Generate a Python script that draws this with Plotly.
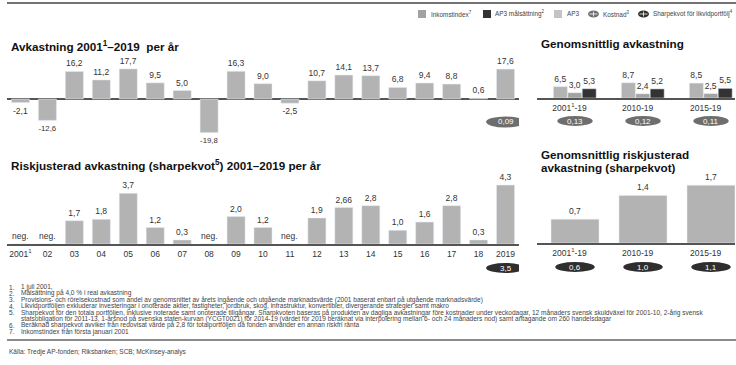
import plotly.graph_objects as go

W, H = 736, 365
FONT = "Liberation Sans, Arial, sans-serif"

# ---------------- data ----------------
years = ["2001", "02", "03", "04", "05", "06", "07", "08", "09", "10",
         "11", "12", "13", "14", "15", "16", "17", "18", "2019"]
year_labels = ["2001<sup>1</sup>", "02", "03", "04", "05", "06", "07", "08", "09", "10",
               "11", "12", "13", "14", "15", "16", "17", "18", "2019"]
returns = [-2.1, -12.6, 16.2, 11.2, 17.7, 9.5, 5.0, -19.8, 16.3, 9.0,
           -2.5, 10.7, 14.1, 13.7, 6.8, 9.4, 8.8, 0.6, 17.6]
sharpe = [None, None, 1.7, 1.8, 3.7, 1.2, 0.3, None, 2.0, 1.2,
          None, 1.9, 2.66, 2.8, 1.0, 1.6, 2.8, 0.3, 4.3]
cost_2019 = 0.09
liquid_sharpe_2019 = 3.5

periods = ["2001<sup>1</sup>-19", "2010-19", "2015-19"]
avg_ap3 = [6.5, 8.7, 8.5]
avg_income = [3.0, 2.4, 2.5]
avg_target = [5.3, 5.2, 5.5]
avg_cost = [0.13, 0.12, 0.11]
avg_sharpe = [0.7, 1.4, 1.7]
avg_liquid_sharpe = [0.6, 1.0, 1.1]

footnotes = [
    "1 juli 2001,",
    "Målsättning på 4,0 % i real avkastning",
    "Provisions- och rörelsekostnad som andel av genomsnittet av årets ingående och utgående marknadsvärde (2001 baserat enbart på utgående marknadsvärde)",
    "Likvidportföljen exkluderar investeringar i onoterade aktier, fastigheter, jordbruk, skog, infrastruktur, konvertibler, divergerande strategier samt makro",
    "Sharpekvot för den totala portföljen, inklusive noterade samt onoterade tillgångar. Sharpkvoten baseras på produkten av dagliga avkastningar före kostnader under veckodagar, 12 månaders svensk skuldväxel för 2001-10, 2-årig svensk",
    "statsobligation för 2011-13, 1-årsnod på svenska staten-kurvan (YCGT0021) för 2014-19 (värdet för 2019 beräknat via interpolering mellan 6- och 24 månaders nod) samt antagande om 260 handelsdagar",
    "Beräknad sharpekvot avviker från redovisat värde på 2,8 för totalportföljen då fonden använder en annan riskfri ränta",
    "Inkomstindex från första januari 2001",
]
footnote_nums = ["1.", "2.", "3.", "4.", "5.", "", "6.", "7."]
source = "Källa: Tredje AP-fonden; Riksbanken; SCB; McKinsey-analys"

# ---------------- styles ----------------
C_AP3 = "#b3b3b3"
C_INC = "#a2a2a2"
C_TGT = "#333333"
C_OVAL_COST = "#6e6e6e"
C_OVAL_SHARPE = "#2e2e2e"
C_TEXT = "#333333"
C_AXIS = "#555555"


def px(x):
    return x / W


def py(y):
    return 1 - y / H


def fmt(v):
    return str(v).replace(".", ",")


idx = list(range(len(years)))
pidx = list(range(len(periods)))

fig = go.Figure()

# Panel 1: yearly returns
fig.add_trace(go.Bar(
    x=idx, y=returns, xaxis="x", yaxis="y", marker_color=C_AP3,
    text=[fmt(v) for v in returns], textposition="outside",
    textfont=dict(size=8.5, color=C_TEXT, family=FONT), cliponaxis=False,
    width=0.67,
))

# Panel 2: average returns (grouped)
grp_w = 0.212
for k, (vals, col) in enumerate([(avg_ap3, C_AP3), (avg_income, C_INC), (avg_target, C_TGT)]):
    fig.add_trace(go.Bar(
        x=pidx, y=vals, xaxis="x2", yaxis="y2", marker_color=col,
        width=grp_w * 0.97, offset=-1.5 * grp_w + k * grp_w,
        text=[fmt(v) for v in vals], textposition="outside",
        textfont=dict(size=8.5, color=C_TEXT, family=FONT), cliponaxis=False,
    ))

# Panel 3: yearly sharpe
fig.add_trace(go.Bar(
    x=idx, y=[v if v is not None else 0 for v in sharpe], xaxis="x3", yaxis="y3",
    marker_color=C_AP3, width=0.67,
    text=[fmt(v) if v is not None else "" for v in sharpe], textposition="outside",
    textfont=dict(size=8.5, color=C_TEXT, family=FONT), cliponaxis=False,
))

# Panel 4: average sharpe
fig.add_trace(go.Bar(
    x=pidx, y=avg_sharpe, xaxis="x4", yaxis="y4",
    marker_color=C_AP3, width=0.706,
    text=[fmt(v) for v in avg_sharpe], textposition="outside",
    textfont=dict(size=8.5, color=C_TEXT, family=FONT), cliponaxis=False,
))

# ---------------- axes ----------------
left_dom = [px(7), px(519)]
left_rng = [-0.5, len(years) - 0.5]
right_dom = [px(537), px(735)]
right_rng = [(537 - 575) / 68, (735 - 575) / 68]
tick_off = -0.08

layout = dict(
    width=W, height=H, margin=dict(l=0, r=0, t=0, b=0),
    paper_bgcolor="white", plot_bgcolor="rgba(0,0,0,0)",
    showlegend=False, font=dict(family=FONT, color=C_TEXT),
    barmode="overlay",
    xaxis=dict(domain=left_dom, range=left_rng, showticklabels=False, showgrid=False,
               showline=False, zeroline=False, anchor="y"),
    yaxis=dict(domain=[py(142), py(58)], range=[-(142 - 99) / 1.7, (99 - 58) / 1.7],
               showticklabels=False, showgrid=False, zeroline=True,
               zerolinecolor=C_AXIS, zerolinewidth=1.5, anchor="x"),
    xaxis2=dict(domain=right_dom, range=right_rng, showgrid=False, zeroline=False,
                showline=True, linecolor=C_AXIS, linewidth=1.5, anchor="y2",
                tickvals=[i + tick_off for i in pidx], ticktext=periods,
                ticks="outside", ticklen=1, tickcolor="rgba(0,0,0,0)",
                tickfont=dict(size=8.5, color=C_TEXT)),
    yaxis2=dict(domain=[py(98), py(66)], range=[0, (98 - 66) / 1.75], showticklabels=False,
                showgrid=False, zeroline=False, anchor="x2"),
    xaxis3=dict(domain=left_dom, range=left_rng, showgrid=False, zeroline=False,
                showline=True, linecolor=C_AXIS, linewidth=1.5, anchor="y3",
                tickvals=idx, ticktext=year_labels,
                ticks="outside", ticklen=1, tickcolor="rgba(0,0,0,0)",
                tickfont=dict(size=8.5, color=C_TEXT)),
    yaxis3=dict(domain=[py(244), py(244 - 5 * 13.7)], range=[0, 5], showticklabels=False,
                showgrid=False, zeroline=False, anchor="x3"),
    xaxis4=dict(domain=right_dom, range=right_rng, showgrid=False, zeroline=False,
                showline=True, linecolor=C_AXIS, linewidth=1.5, anchor="y4",
                tickvals=[i + tick_off for i in pidx], ticktext=periods,
                ticks="outside", ticklen=1, tickcolor="rgba(0,0,0,0)",
                tickfont=dict(size=8.5, color=C_TEXT)),
    yaxis4=dict(domain=[py(243), py(243 - 2 * 34)], range=[0, 2], showticklabels=False,
                showgrid=False, zeroline=False, anchor="x4"),
)
fig.update_layout(**layout)

shapes = []
annotations = []


def text(x, y, s, size=8, color=C_TEXT, bold=False, xanchor="left", **kw):
    annotations.append(dict(
        x=x, y=y, xref=kw.pop("xref", "paper"), yref=kw.pop("yref", "paper"),
        text=f"<b>{s}</b>" if bold else s, showarrow=False,
        xanchor=xanchor, yanchor=kw.pop("yanchor", "middle"),
        font=dict(size=size, color=color, family=FONT), **kw))


def oval(xref, xc, half, yc_px, h_px, color, label):
    shapes.append(dict(type="circle", xref=xref, yref="paper",
                       x0=xc - half, x1=xc + half,
                       y0=py(yc_px + h_px / 2), y1=py(yc_px - h_px / 2),
                       fillcolor=color, line=dict(width=0)))
    text(xc, py(yc_px), label, size=8, color="white", xanchor="center", xref=xref)


# top rule and bottom rule
shapes.append(dict(type="line", xref="paper", yref="paper", x0=px(7), x1=1,
                   y0=py(3), y1=py(3), line=dict(color="#444444", width=1.5)))
shapes.append(dict(type="line", xref="paper", yref="paper", x0=px(7), x1=1,
                   y0=py(340), y1=py(340), line=dict(color="#666666", width=1.5)))

# titles
TS = 11.7
text(px(9), py(46), "Avkastning 2001<sup>1</sup>–2019  per år", size=TS, bold=True, color="#111111")
text(px(539), py(44), "Genomsnittlig avkastning", size=TS, bold=True, color="#111111")
text(px(9), py(165), "Riskjusterad avkastning (sharpekvot<sup>5</sup>) 2001–2019 per år", size=TS, bold=True, color="#111111")
text(px(539), py(154), "Genomsnittlig riskjusterad", size=TS, bold=True, color="#111111")
text(px(539), py(167.5), "avkastning (sharpekvot)", size=TS, bold=True, color="#111111")

# legend
leg_y = 14
def leg_square(x, color):
    shapes.append(dict(type="rect", xref="paper", yref="paper",
                       x0=px(x), x1=px(x + 8), y0=py(leg_y + 4), y1=py(leg_y - 4),
                       fillcolor=color, line=dict(width=0)))

leg_square(418, C_INC)
text(px(429), py(leg_y), "Inkomstindex<sup>7</sup>", size=6.4, color="#444444")
leg_square(483, C_TGT)
text(px(493), py(leg_y), "AP3 målsättning<sup>2</sup>", size=6.4, color="#444444")
leg_square(554, "#c4c4c4")
text(px(565), py(leg_y), "AP3", size=6.4, color="#444444")
for (x0, col) in [(588, C_OVAL_COST), (638, C_OVAL_SHARPE)]:
    shapes.append(dict(type="circle", xref="paper", yref="paper",
                       x0=px(x0), x1=px(x0 + 11), y0=py(leg_y + 3.5), y1=py(leg_y - 3.5),
                       fillcolor=col, line=dict(width=0)))
    shapes.append(dict(type="line", xref="paper", yref="paper",
                       x0=px(x0 + 1.5), x1=px(x0 + 9.5), y0=py(leg_y), y1=py(leg_y),
                       line=dict(color="white", width=0.8)))
    shapes.append(dict(type="line", xref="paper", yref="paper",
                       x0=px(x0 + 5.5), x1=px(x0 + 5.5), y0=py(leg_y + 2.5), y1=py(leg_y - 2.5),
                       line=dict(color="white", width=0.8)))
text(px(601), py(leg_y), "Kostnad<sup>3</sup>", size=6.4, color="#444444")
text(px(651), py(leg_y), "Sharpekvot för likvidportfölj<sup>4</sup>", size=6.4, color="#444444")

# ovals
last = len(years) - 1
oval("x", last, 0.72, 122, 11, C_OVAL_COST, fmt(cost_2019))
oval("x3", last, 0.72, 268, 10, C_OVAL_SHARPE, fmt(liquid_sharpe_2019))
for i in pidx:
    oval("x2", i, 0.26, 121, 10, C_OVAL_COST, fmt(avg_cost[i]))
    oval("x4", i, 0.29, 267, 10, C_OVAL_SHARPE, fmt(avg_liquid_sharpe[i]))

# neg. labels
for i, v in zip(idx, sharpe):
    if v is None:
        annotations.append(dict(x=i, y=0, xref="x3", yref="y3", text="neg.", showarrow=False,
                                yanchor="bottom", yshift=1,
                                font=dict(size=8.5, color=C_TEXT, family=FONT)))

# footnotes
FS = 6.55
fy = 287
for n, s in zip(footnote_nums, footnotes):
    if n:
        text(px(7), py(fy), n, size=FS, color="#444444")
    text(px(19), py(fy), s, size=FS, color="#444444")
    fy += 6.4
text(px(7), py(352), source, size=FS, color="#444444")

fig.update_layout(shapes=shapes, annotations=annotations)
fig.write_html(
    "out.html",
    config={"displayModeBar": False},
    post_script="document.body.style.margin='0';document.body.style.padding='0';window.dispatchEvent(new Event('resize'));",
)
